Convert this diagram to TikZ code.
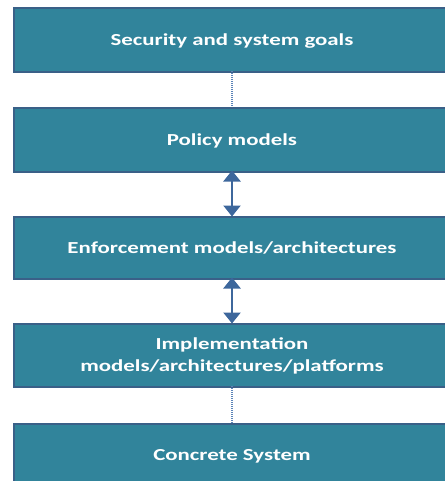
\documentclass[tikz,border=0pt]{standalone}
\usepackage{fontspec}
\newfontfamily\boxfont[FakeStretch=1.36]{Carlito}
\usetikzlibrary{arrows.meta}
\definecolor{boxfill}{HTML}{31849B}
\definecolor{boxedge}{HTML}{3A6088}
\definecolor{arrowblue}{HTML}{3D679C}
\definecolor{dotblue}{HTML}{5B84B8}
\tikzset{
  layer/.style={draw=boxedge, line width=1.8pt, fill=boxfill, minimum width=460pt, anchor=north west, inner sep=0pt},
  label/.style={text=white, font=\boxfont\bfseries\fontsize{16.8}{22}\selectfont, align=center},
  dotlink/.style={draw=dotblue, line width=1.4pt, dash pattern=on 1pt off 1pt},
  twoway/.style={draw=arrowblue, line width=2.4pt, {Triangle[width=17pt,length=11pt]}-{Triangle[width=17pt,length=11pt]}, shorten <=-0.5pt, shorten >=-0.5pt}
}
\begin{document}
\begin{tikzpicture}[x=1pt,y=-1pt]
\useasboundingbox (0,0) rectangle (444,481);
\node[layer, minimum height=64pt] (b1) at (13,7) {};
\node[layer, minimum height=64pt] (b2) at (13,107) {};
\node[layer, minimum height=62pt] (b3) at (13,216) {};
\node[layer, minimum height=63pt] (b4) at (13,323) {};
\node[layer, minimum height=70pt] (b5) at (13,423) {};
\node[label] (t1) at (232,41) {Security and system  goals};
\node[label] (t2) at (232,141) {Policy models};
\node[label] (t3) at (232,248) {Enforcement models/architectures};
\node[label] (t4) at (232,356) {Implementation\\models/architectures/platforms};
\node[label] (t5) at (232,456) {Concrete System};
\coordinate (c1s) at (232,71);
\coordinate (c1e) at (232,107);
\coordinate (c2s) at (232,171);
\coordinate (c2e) at (232,216);
\coordinate (c3s) at (232,278);
\coordinate (c3e) at (232,323);
\coordinate (c4s) at (232,386);
\coordinate (c4e) at (232,423);
\draw[dotlink] (c1s) -- (c1e);
\draw[twoway] (c2s) -- (c2e);
\draw[twoway] (c3s) -- (c3e);
\draw[dotlink] (c4s) -- (c4e);
\end{tikzpicture}
\end{document}
